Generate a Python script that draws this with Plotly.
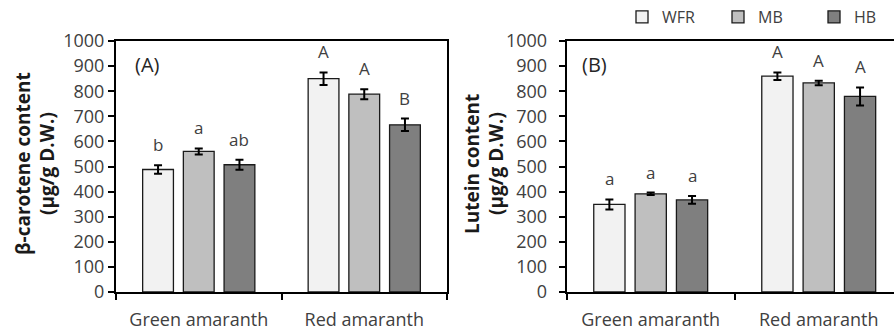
import plotly.graph_objects as go

categories = ["Green amaranth", "Red amaranth"]
treatments = ["WFR", "MB", "HB"]
colors = ["#f2f2f2", "#bfbfbf", "#7f7f7f"]

# Panel A: beta-carotene
beta_vals = {"WFR": [488, 850], "MB": [560, 788], "HB": [507, 666]}
beta_err = {"WFR": [17, 25], "MB": [12, 20], "HB": [20, 25]}
beta_letters = {"WFR": ["b", "A"], "MB": ["a", "A"], "HB": ["ab", "B"]}

# Panel B: lutein
lut_vals = {"WFR": [349, 860], "MB": [391, 833], "HB": [367, 779]}
lut_err = {"WFR": [20, 15], "MB": [5, 9], "HB": [15, 36]}
lut_letters = {"WFR": ["a", "A"], "MB": ["a", "A"], "HB": ["a", "A"]}

FONT = "Open Sans"
TXT = "#404040"
W, H = 894, 331


def px(x):
    return x / W


def py(y):
    return (H - y) / H


top_px, bot_px = 41, 292
ydom = [py(bot_px), py(top_px)]

fig = go.Figure()

bargap = 0.262
slot = (1 - bargap) / 3
offsets = [-slot, 0, slot]

for i, t in enumerate(treatments):
    fig.add_trace(go.Bar(
        x=categories, y=beta_vals[t], name=t, xaxis="x", yaxis="y",
        marker=dict(color=colors[i], line=dict(color="#1a1a1a", width=1.3)),
        error_y=dict(type="data", array=beta_err[t], color="black", thickness=2, width=4),
        showlegend=True, legendgroup=t,
    ))
for i, t in enumerate(treatments):
    fig.add_trace(go.Bar(
        x=categories, y=lut_vals[t], name=t, xaxis="x2", yaxis="y2",
        marker=dict(color=colors[i], line=dict(color="#1a1a1a", width=1.3)),
        error_y=dict(type="data", array=lut_err[t], color="black", thickness=2, width=4),
        showlegend=False, legendgroup=t,
    ))

annotations = []
for (xr, yr, vals, errs, letters) in [("x", "y", beta_vals, beta_err, beta_letters),
                                       ("x2", "y2", lut_vals, lut_err, lut_letters)]:
    for i, t in enumerate(treatments):
        for c in range(len(categories)):
            annotations.append(dict(
                x=c + offsets[i], y=vals[t][c] + errs[t][c], xref=xr, yref=yr,
                text=letters[t][c], showarrow=False, yanchor="bottom", yshift=7,
                font=dict(family=FONT, size=17, color=TXT)))

annotations += [
    dict(text="(A)", xref="x domain", yref="y domain", x=0.05, y=0.905,
         xanchor="left", yanchor="middle", showarrow=False,
         font=dict(family=FONT, size=20, color="#262626")),
    dict(text="(B)", xref="x2 domain", yref="y2 domain", x=0.04, y=0.905,
         xanchor="left", yanchor="middle", showarrow=False,
         font=dict(family=FONT, size=20, color="#262626")),
]

for xpx, txt in [(23, "β-carotene content"), (47, "(μg/g D.W.)"),
                 (472, "Lutein content"), (496, "(μg/g D.W.)")]:
    annotations.append(dict(
        text="<b>" + txt + "</b>", xref="paper", yref="paper", x=px(xpx), y=py(164),
        xanchor="center", yanchor="middle", textangle=-90, showarrow=False,
        font=dict(family=FONT, size=19, color="#1a1a1a")))

common_x = dict(type="category", showline=True, linecolor="black", linewidth=2,
                mirror=True, ticks="outside", ticklen=6, tickwidth=2, tickcolor="black",
                tickson="boundaries", showgrid=False, ticklabelstandoff=10,
                tickfont=dict(family=FONT, size=18, color=TXT))
common_y = dict(range=[0, 1000], dtick=100, showline=True, linecolor="black", linewidth=2,
                ticks="outside", ticklen=6, tickwidth=2, tickcolor="black",
                showgrid=False, zeroline=False, domain=ydom,
                tickfont=dict(family=FONT, size=18, color=TXT))

fig.update_layout(
    width=W, height=H, margin=dict(l=0, r=0, t=0, b=0, autoexpand=False),
    paper_bgcolor="white", plot_bgcolor="white",
    barmode="group", bargap=bargap, bargroupgap=0.244,
    xaxis=dict(common_x, domain=[px(116), px(447)], range=[-0.5, 1.5], anchor="y"),
    yaxis=dict(common_y, mirror=True, anchor="x", ticklabelstandoff=0),
    xaxis2=dict(common_x, domain=[px(566.7), 1.0], range=[-0.5, 1.448], anchor="y2"),
    yaxis2=dict(common_y, mirror=False, anchor="x2", ticklabelstandoff=8),
    legend=dict(orientation="h", x=px(622), y=py(17), xanchor="left", yanchor="middle",
                font=dict(family=FONT, size=16, color=TXT), bgcolor="rgba(0,0,0,0)",
                entrywidth=51, entrywidthmode="pixels", traceorder="normal",
                itemclick=False),
    annotations=annotations,
)

fig.write_html("out.html", config={"displayModeBar": False},
               post_script="document.body.style.margin='0';document.body.style.overflow='hidden';")
